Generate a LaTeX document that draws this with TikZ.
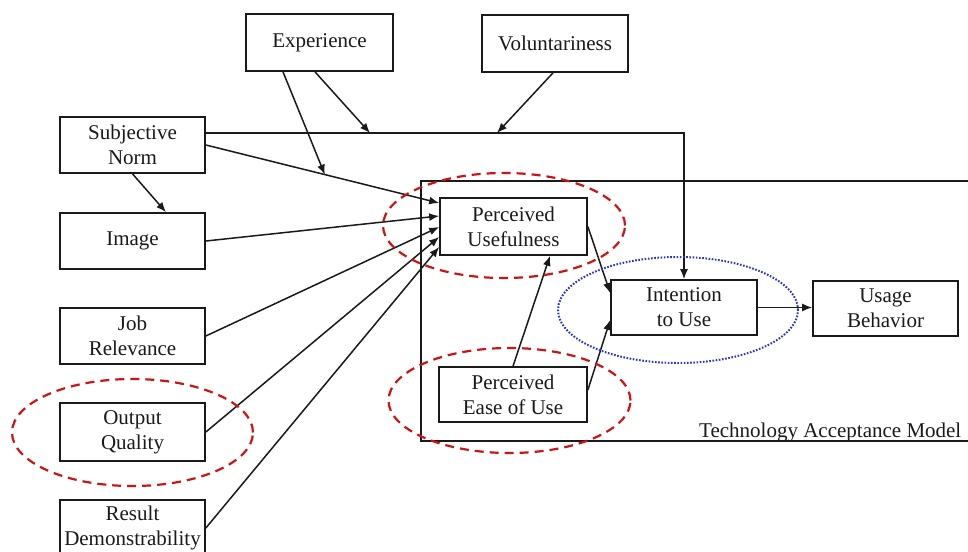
\documentclass[tikz,border=0pt]{standalone}
\usepackage{fontspec}
\setmainfont{Liberation Serif}
\usetikzlibrary{arrows.meta,calc}
\definecolor{ink}{HTML}{1A1A1A}
\definecolor{redd}{HTML}{CC1414}
\definecolor{blued}{HTML}{2A32D0}
\tikzset{
  boxnode/.style={draw=ink, line width=1.7pt, inner sep=0pt, align=center,
    font=\fontsize{21}{25}\selectfont, text=ink},
  arr/.style={draw=ink, line width=1.5pt, -{Latex[length=10pt,width=8pt]}},
  reddash/.style={draw=redd, line width=2.2pt, dash pattern=on 9pt off 6pt},
  bluedot/.style={draw=blued, line width=2pt, dash pattern=on 1.6pt off 1.6pt},
}
\begin{document}
\begin{tikzpicture}[x=1pt,y=-1pt]
\useasboundingbox (0,0) rectangle (968,551);
\clip (0,0) rectangle (968,551);
\fill[white] (0,0) rectangle (968,551);

% TAM frame
\draw[draw=ink, line width=2pt] (980,181) -- (421,181) -- (421,441) -- (980,441);
\node[anchor=base west, font=\fontsize{21}{25}\selectfont, text=ink, inner sep=0pt] (tamlabel) at (699,437) {Technology Acceptance Model};

% boxes
\node[boxnode, minimum width=147pt, minimum height=57pt] (exp) at (319.5,42.5) {Experience};
\node[boxnode, minimum width=146pt, minimum height=57pt] (vol) at (555,43.5) {Voluntariness};
\node[boxnode, minimum width=145pt, minimum height=56pt] (sn) at (132.5,145) {Subjective\\Norm};
\node[boxnode, minimum width=145pt, minimum height=56pt] (img) at (132.5,241) {Image};
\node[boxnode, minimum width=145pt, minimum height=56pt] (jr) at (132.5,336) {Job\\Relevance};
\node[boxnode, minimum width=145pt, minimum height=58pt] (oq) at (132.5,432) {Output\\Quality};
\node[boxnode, minimum width=145pt, minimum height=56pt] (rd) at (132.5,528) {Result\\Demonstrability};
\node[boxnode, minimum width=147pt, minimum height=57pt] (pu) at (513.5,226.5) {Perceived\\Usefulness};
\node[boxnode, minimum width=148pt, minimum height=55pt] (peou) at (513,394.5) {Perceived\\Ease of Use};
\node[boxnode, minimum width=146pt, minimum height=55pt] (iu) at (684,307.5) {Intention\\to Use};
\node[boxnode, minimum width=145pt, minimum height=55pt] (ub) at (885.5,308.5) {Usage\\Behavior};

% helper coordinates
\coordinate (snR) at ($(sn.east)+(0,-12)$);
\path (sn.east) -- ($(pu.west)+(0,-23.5)$) coordinate[pos=0.51] (m1);
\coordinate (m2) at (370,133);
\coordinate (m3) at (497,133);

% connectors
\draw[arr] (snR) -| (iu.north);
\draw[arr] (sn.east) -- ($(pu.west)+(0,-23.5)$);
\draw[arr] ($(exp.south)+(-36.5,0)$) -- (m1);
\draw[arr] ($(exp.south)+(-4.5,0)$) -- (m2);
\draw[arr] ($(vol.south)+(-2,0)$) -- (m3);
\draw[arr] (sn.south) -- ($(img.north)+(33.5,0)$);
\draw[arr] (img.east) -- ($(pu.west)+(0,-10.5)$);
\draw[arr] (jr.east) -- ($(pu.west)+(0,0.5)$);
\draw[arr] (oq.east) -- ($(pu.west)+(0,10.5)$);
\draw[arr] (rd.east) -- ($(pu.west)+(0,20.5)$);
\draw[arr] (pu.east) -- ($(iu.west)+(0,-14.5)$);
\draw[arr] ($(peou.east)+(0,-4.5)$) -- ($(iu.west)+(0,12.5)$);
\draw[arr] (peou.north) -- ($(pu.south)+(36.5,0)$);
\draw[arr] (iu.east) -- (iu.east -| ub.west);

% highlight ellipses
\draw[reddash] (504,225.5) ellipse [x radius=121pt, y radius=52.5pt];
\draw[reddash] (509.5,400.5) ellipse [x radius=121pt, y radius=52.5pt];
\draw[reddash] (132.5,432.5) ellipse [x radius=120.5pt, y radius=53.5pt];
\draw[bluedot] (678,310) ellipse [x radius=120pt, y radius=53pt];
\end{tikzpicture}
\end{document}
